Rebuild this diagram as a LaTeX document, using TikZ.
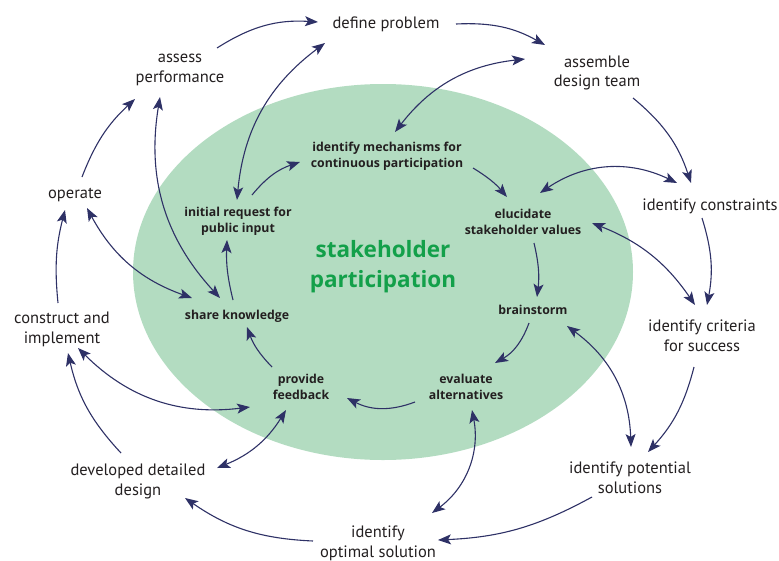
\documentclass[tikz,border=0pt]{standalone}
\usepackage{fontspec}
\setmainfont{PT Sans}
\newfontfamily\innerfont{Open Sans}
\usetikzlibrary{arrows.meta,calc}
\definecolor{arr}{HTML}{2E3166}
\definecolor{txt}{HTML}{231F20}
\definecolor{ellfill}{HTML}{B3DCC1}
\definecolor{stgreen}{HTML}{13A04A}
\begin{document}
\begin{tikzpicture}[x=1pt,y=1pt,
  outer/.style={font=\fontsize{16.5}{19.8}\selectfont, text=txt, align=center, inner sep=0pt},
  inner/.style={font=\innerfont\bfseries\fontsize{12.3}{16}\selectfont, text=txt, align=center, inner sep=0pt},
  tip/.tip={Stealth[length=13pt,width=10pt,inset=3pt]},
  conn/.style={draw=arr, line width=1.1pt, -tip},
  dconn/.style={draw=arr, line width=1.1pt, tip-tip}]
\useasboundingbox (0,0) rectangle (779,-560);
\fill[ellfill] (383,-272) ellipse [x radius=250, y radius=188];

% outer labels
\node[outer] (define) at (386,-24) {define problem};
\node[outer] (assess) at (180,-70) {assess\\performance};
\node[outer] (assemble) at (597,-73) {assemble\\design team};
\node[outer] (operate) at (75,-195) {operate};
\node[outer] (constraints) at (710,-206) {identify constraints};
\node[outer] (construct) at (62,-329) {construct and\\implement};
\node[outer] (criteria) at (702,-336) {identify criteria\\for success};
\node[outer] (developed) at (138,-481) {developed detailed\\design};
\node[outer] (potential) at (630,-478) {identify potential\\solutions};
\node[outer] (optimal) at (378,-543) {identify\\optimal solution};

% inner labels
\node[inner] (mech) at (387,-156) {identify mechanisms for\\continuous participation};
\node[inner] (initial) at (238,-221) {initial request for\\public input};
\node[inner] (elucidate) at (523,-222) {elucidate\\stakeholder values};
\node[font=\innerfont\bfseries\fontsize{22.5}{30}\selectfont, text=stgreen, align=center, inner sep=0pt] (stake) at (383,-267) {stakeholder\\participation};
\node[inner] (share) at (237,-316) {share knowledge};
\node[inner] (brainstorm) at (533,-310) {brainstorm};
\node[inner] (feedback) at (301,-387) {provide\\feedback};
\node[inner] (evaluate) at (466,-387) {evaluate\\alternatives};

% outer cycle
\draw[conn] ($(assess)+(37,22)$) to[bend left=18] ($(define)+(-68,2)$);
\draw[conn] ($(define)+(70,0)$) to[bend left=16] ($(assemble)+(-52,28)$);
\draw[conn] ($(assemble)+(36,-25)$) to[bend left=16] ($(constraints)+(-19,23)$);
\draw[conn] ($(constraints)+(-8,-12)$) to[bend left=14] ($(criteria)+(5,31)$);
\draw[conn] ($(criteria)+(-8,-31)$) to[bend left=14] ($(potential)+(18,26)$);
\draw[conn] ($(potential)+(-38,-19)$) to[bend left=13] ($(optimal)+(60,3)$);
\draw[conn] ($(optimal)+(-65,2)$) to[bend left=16] ($(developed)+(47,-17)$);
\draw[conn] ($(developed)+(-17,28)$) to[bend left=15] ($(construct)+(6,-24)$);
\draw[conn] ($(construct)+(-4,26)$) to[bend left=10] ($(operate)+(-10,-15)$);
\draw[conn] ($(operate)+(7,18)$) to[bend left=13] ($(assess)+(-45,-29)$);

% inner cycle
\draw[conn] ($(initial)+(14,26)$) to[bend left=16] ($(mech)+(-87,-6)$);
\draw[conn] ($(mech)+(86,-12)$) to[bend left=9] ($(elucidate)+(-16,25)$);
\draw[conn] ($(elucidate)+(11,-21)$) to[bend left=10] ($(brainstorm)+(4,13)$);
\draw[conn] ($(brainstorm)+(-4,-13)$) to[bend left=20] ($(evaluate)+(29,24)$);
\draw[conn] ($(evaluate)+(-51,-15)$) to[bend left=24] ($(feedback)+(46,-11)$);
\draw[conn] ($(feedback)+(-29,20)$) to[bend left=12] ($(share)+(10,-11)$);
\draw[conn] ($(share)+(-4,16)$) to[bend left=8] ($(initial)+(-11,-19)$);

% links between the cycles
\draw[dconn] ($(define)+(-61,-19)$) to[bend right=24] ($(initial)+(-1,21)$);
\draw[dconn] ($(assemble)+(-72,14)$) to[bend right=23] ($(mech)+(8,24)$);
\draw[dconn] ($(elucidate)+(17,29)$) to[bend left=30] ($(constraints)+(-33,23)$);
\draw[dconn] ($(elucidate)+(69,-1)$) to[bend left=17] ($(criteria)+(-7,31)$);
\draw[dconn] ($(brainstorm)+(34,-16)$) to[bend left=26] ($(potential)+(1,31)$);
\draw[dconn] ($(evaluate)+(6,-23)$) to[bend left=32] ($(optimal)+(54,30)$);
\draw[dconn] ($(feedback)+(-15,-23)$) to[bend left=18] ($(developed)+(79,13)$);
\draw[dconn] ($(construct)+(16,-19)$) to[bend right=26] ($(feedback)+(-51,-20)$);
\draw[dconn] ($(share)+(-45,18)$) to[bend left=21] ($(operate)+(12,-13)$);
\draw[dconn] ($(share)+(-17,18)$) to[bend left=26] ($(assess)+(-20,-27)$);
\end{tikzpicture}
\end{document}
